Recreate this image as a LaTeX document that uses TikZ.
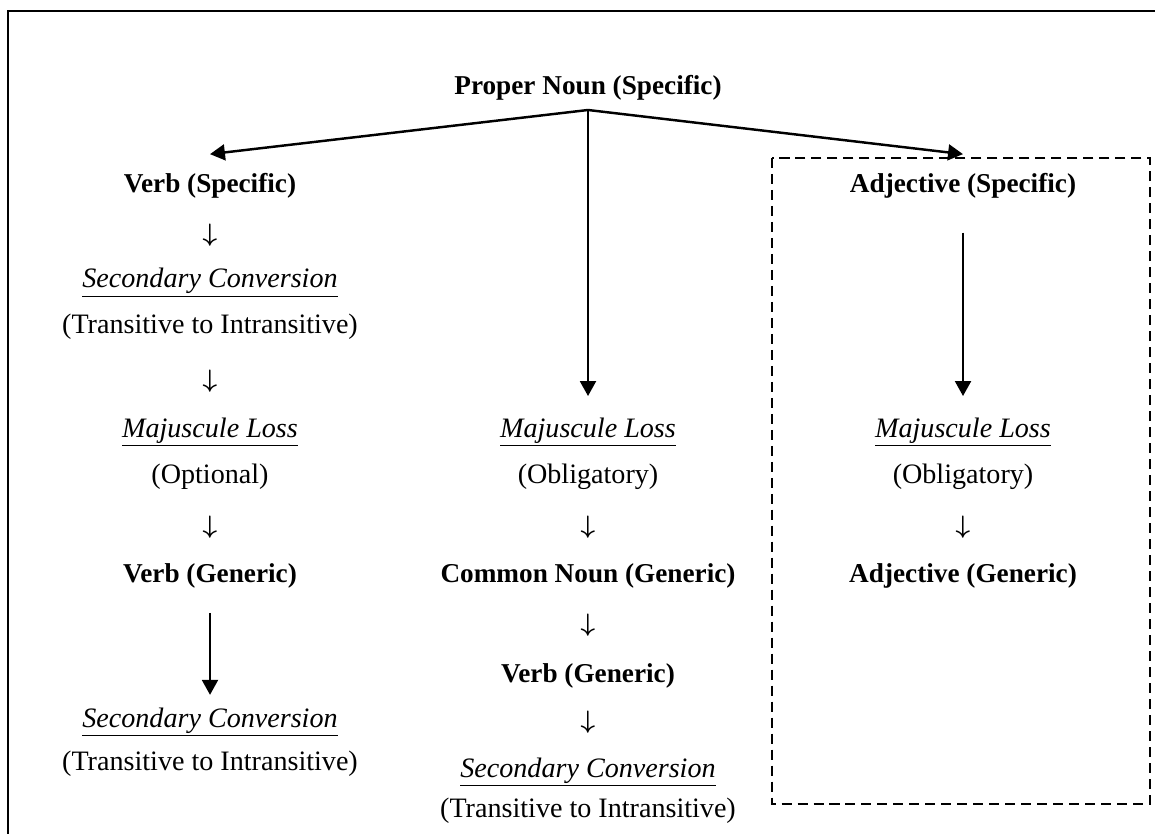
\documentclass[tikz,border=0pt]{standalone}
\usepackage{fontspec}
\setmainfont{Liberation Serif}
\usetikzlibrary{arrows.meta}
\tikzset{
        stage/.style={font=\fontsize{15.5}{18}\selectfont\bfseries, anchor=base, inner sep=0pt},
        process/.style={font=\fontsize{16}{19}\selectfont\itshape, anchor=base, inner sep=0pt},
        note/.style={font=\fontsize{16}{19}\selectfont, anchor=base, inner sep=0pt},
        sign/.style={font=\fontsize{15}{18}\selectfont\boldmath, anchor=base, inner sep=0pt},
        arr/.style={-{Triangle[length=8.5pt, width=9pt]}, line width=1.4pt},
        border line/.style={line width=1.3pt},
        dashbox/.style={dash pattern=on 5.7pt off 3.4pt, line width=0.9pt}
          }

\begin{document}
\begin{tikzpicture}[x=0.02cm, y=-0.02cm]
  \useasboundingbox (0,0) rectangle (1155,834);
  \draw[border line] (8,834) -- (8,11) -- (1155,11);

  \node[stage] (top) at (588,95) {Proper Noun (Specific)};
  \coordinate (fork) at (588,110);

  % left branch
  \node[stage] (vs) at (210,193) {Verb (Specific)};
  \node[sign] (la) at (210,242) {$\downarrow$};
  \node[process] (lsc) at (210,288) {\underline{Secondary Conversion}};
  \node[note] (ltr) at (210,333) {(Transitive to Intransitive)};
  \node[sign] (lb) at (210,387) {$\downarrow$};
  \node[process] (lml) at (210,437) {\underline{Majuscule Loss}};
  \node[note] (lopt) at (210,483) {(Optional)};
  \node[sign] (lc) at (210,533) {$\downarrow$};
  \node[stage] (lvg) at (210,582) {Verb (Generic)};
  \node[process] (lsc2) at (210,727) {\underline{Secondary Conversion}};
  \node[note] (ltr2) at (210,770) {(Transitive to Intransitive)};

  % middle branch
  \node[process] (mml) at (588,437) {\underline{Majuscule Loss}};
  \node[note] (mobl) at (588,483) {(Obligatory)};
  \node[sign] (ma) at (588,533) {$\downarrow$};
  \node[stage] (mcn) at (588,582) {Common Noun (Generic)};
  \node[sign] (mb) at (588,631) {$\downarrow$};
  \node[stage] (mvg) at (588,682) {Verb (Generic)};
  \node[sign] (mc) at (588,728) {$\downarrow$};
  \node[process] (msc) at (588,777) {\underline{Secondary Conversion}};
  \node[note] (mtr) at (588,817) {(Transitive to Intransitive)};

  % right branch
  \node[stage] (as) at (963,193) {Adjective (Specific)};
  \node[process] (rml) at (963,437) {\underline{Majuscule Loss}};
  \node[note] (robl) at (963,483) {(Obligatory)};
  \node[sign] (ra) at (963,533) {$\downarrow$};
  \node[stage] (rag) at (963,582) {Adjective (Generic)};
  \draw[dashbox] (772,158) rectangle (1150,804);

  \draw[arr] (fork) -- ([yshift=11pt]vs.north);
  \draw[arr, shorten >=12pt] (fork) -- (mml.north);
  \draw[arr] (fork) -- ([yshift=11pt]as.north);
  \draw[arr, shorten <=19pt, shorten >=12pt] (as.south) -- (rml.north);
  \draw[arr, shorten <=14pt, shorten >=7pt] (lvg.south) -- (lsc2.north);
\end{tikzpicture}
\end{document}
